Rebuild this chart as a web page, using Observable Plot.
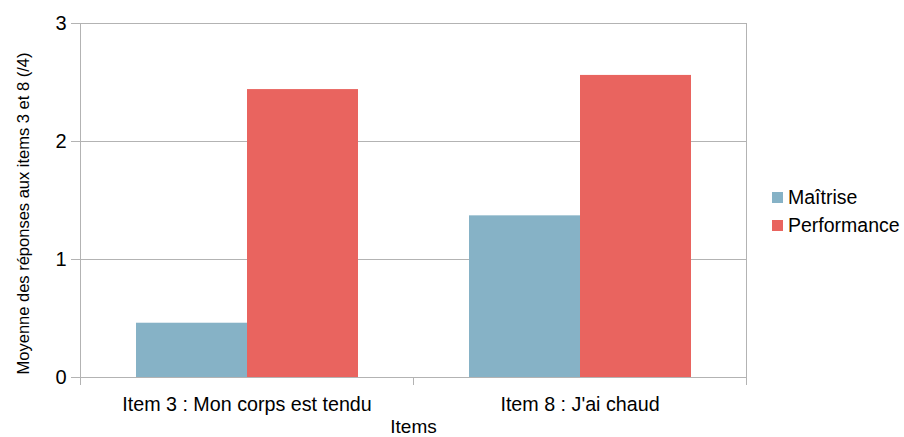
<!DOCTYPE html>
<html><head><meta charset="utf-8">
<script src="https://cdn.jsdelivr.net/npm/d3@7"></script>
<script src="https://cdn.jsdelivr.net/npm/@observablehq/plot@0.6"></script>
<style>
body{margin:0;background:#fff;font-family:"Liberation Sans",Arial,sans-serif;}
#wrap{position:relative;width:904px;height:437px;}
#legend{position:absolute;left:772px;top:183px;}
#legend div[class*="swatch"]{font-family:"Liberation Sans",Arial,sans-serif !important;font-size:19.5px !important;line-height:28px !important;color:#000;margin:0 !important;padding:0 !important;}
#legend span[class*="swatch"] svg, #legend div[class*="swatch"] svg{margin-right:5px !important;}
</style></head><body><div id="wrap"><div id="legend"></div></div>
<script>
const items = ["Item 3 : Mon corps est tendu", "Item 8 : J'ai chaud"];
const series = ["Maîtrise", "Performance"];
const maitrise = [0.46, 1.37];
const performance = [2.44, 2.56];
const colors = ["#86b2c6", "#e9645f"];
const yTicks = [0, 1, 2, 3];
const yLabel = "Moyenne des réponses aux items 3 et 8 (/4)";
const xLabel = "Items";

const data = items.flatMap((item, i) => [
  {item, series: series[0], value: maitrise[i]},
  {item, series: series[1], value: performance[i]}
]);

const chart = Plot.plot({
  width: 904, height: 437,
  marginLeft: 79, marginRight: 158, marginTop: 23, marginBottom: 60,
  style: {fontFamily: "Liberation Sans, Arial, sans-serif", background: "white", color: "black"},
  fx: {domain: items, padding: 0, label: null},
  x: {domain: series, paddingInner: 0, paddingOuter: 0.5, axis: null},
  y: {domain: [0, 3]},
  color: {domain: series, range: colors},
  marks: [
    Plot.gridY(yTicks, {stroke: "#b3b3b3", strokeOpacity: 1}),
    Plot.barY(data, {fx: "item", x: "series", y: "value", fill: "series"}),
    Plot.frame({stroke: "#b3b3b3", facet: "super"}),
    Plot.axisY(yTicks, {tickSize: 9, tickPadding: 5, fontSize: 20, stroke: "#b3b3b3", fill: "black", label: null, tickFormat: d => String(d)}),
    Plot.axisFx({anchor: "bottom", tickSize: 0, tickPadding: 19, fontSize: 19.7, fill: "black", label: null}),
    Plot.text([xLabel], {facet: "super", frameAnchor: "bottom", lineAnchor: "middle", dy: 49, fontSize: 19, fill: "black"}),
    Plot.text([yLabel], {facet: "super", frameAnchor: "left", textAnchor: "middle", lineAnchor: "middle", rotate: -90, dx: -56.5, dy: 13, fontSize: 16.5, fill: "black"})
  ]
});

// boundary ticks on the category axis
const fx = chart.scale("fx");
const ys = chart.scale("y");
const bounds = items.map(d => fx.apply(d)).concat([fx.apply(items[items.length - 1]) + fx.bandwidth]);
const y0 = ys.apply(0);
d3.select(chart).append("g").selectAll("line").data(bounds).join("line")
  .attr("x1", d => d + 0.5).attr("x2", d => d + 0.5)
  .attr("y1", y0).attr("y2", y0 + 8)
  .attr("stroke", "#b3b3b3");

document.getElementById("wrap").prepend(chart);
const leg = chart.legend("color", {columns: 1, swatchSize: 11});
document.getElementById("legend").append(leg);
</script>
</body></html>
